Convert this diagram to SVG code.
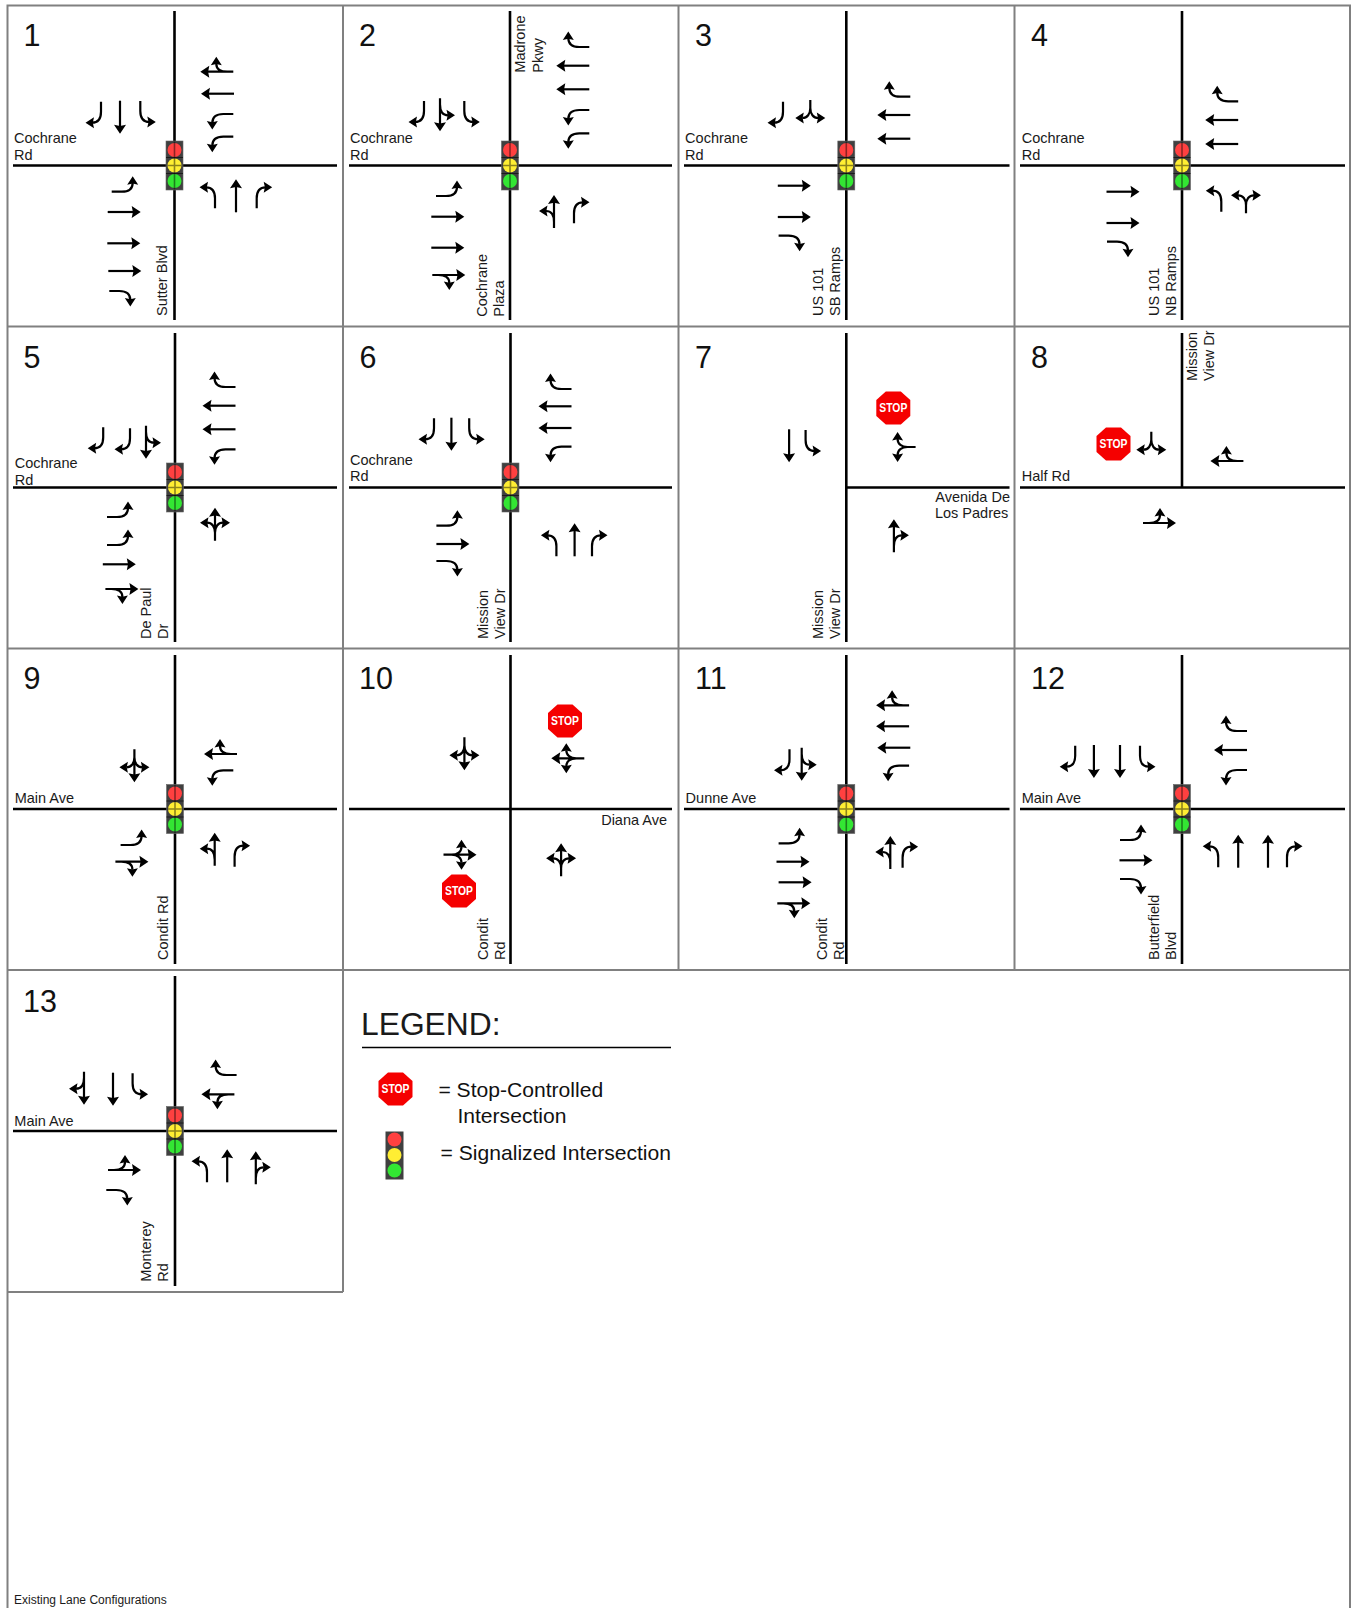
<svg xmlns="http://www.w3.org/2000/svg" width="1354" height="1608" viewBox="0 0 1354 1608">
<style>
text{font-family:"Liberation Sans",Arial,sans-serif;fill:#1a1a1a}
.lb{font-size:14.5px}
.num{font-size:30.5px;fill:#111}
.lg{font-size:21.1px;fill:#111}
.st{font-size:13px;font-weight:bold;fill:#fff;text-anchor:middle}
.grid{stroke:#808080;stroke-width:2;fill:none}
.road{stroke:#000;stroke-width:2.6;fill:none}
.ar{stroke:#000;stroke-width:2.2;fill:none}
.hd{fill:#000;stroke:none}
</style>
<defs>
<polygon id="hU" class="hd" points="0,-8 6,1 0,-0.2 -6,1"/>
<polygon id="hL" class="hd" points="-7.5,0 1,-5.5 -0.2,0 1,5.5"/>
<polygon id="hR" class="hd" points="7.5,0 -1,-5.5 0.2,0 -1,5.5"/>
<g id="T"><path class="ar" d="M0,0V-27"/><use href="#hU" y="-25"/></g>
<g id="L"><path class="ar" d="M0,0V-10C0,-17 -3,-21 -9,-21"/><use href="#hL" x="-8" y="-21"/></g>
<g id="R"><path class="ar" d="M0,0V-10C0,-17 3,-21 9,-21"/><use href="#hR" x="8" y="-21"/></g>
<g id="TL"><path class="ar" d="M0,0V-27M0,-6C0,-13 -3,-17 -8,-17"/><use href="#hU" y="-25"/><use href="#hL" x="-7.5" y="-17"/></g>
<g id="TR"><path class="ar" d="M0,0V-27M0,-6C0,-13 3,-17 8,-17"/><use href="#hU" y="-25"/><use href="#hR" x="7.5" y="-17"/></g>
<g id="LR"><path class="ar" d="M0,0V-8C0,-14 -3,-18 -8,-18M0,-8C0,-14 3,-18 8,-18"/><use href="#hL" x="-7.5" y="-18"/><use href="#hR" x="7.5" y="-18"/></g>
<g id="TLR"><path class="ar" d="M0,0V-27M0,-8C0,-14 -3,-18 -8,-18M0,-8C0,-14 3,-18 8,-18"/><use href="#hU" y="-25"/><use href="#hL" x="-7.5" y="-18"/><use href="#hR" x="7.5" y="-18"/></g>
<g id="sig">
<rect x="-8.5" y="-24.5" width="17" height="49" fill="#404040" stroke="#666" stroke-width="0.6"/>
<circle cy="-15.5" r="7" fill="#ff4040"/><circle r="7" fill="#ffee33"/><circle cy="15.5" r="7" fill="#33e633"/>
<path d="M-8.5,-8H8.5M-8.5,8H8.5" stroke="#111" stroke-width="0.8"/>
<path d="M0,-24V24M-7,0H7" stroke="#000" stroke-width="1.6" stroke-opacity="0.45" fill="none"/>
</g>
<polygon id="oct" fill="#f50000" points="-7.5,-16.5 7.5,-16.5 17,-8 17,8 7.5,16.5 -7.5,16.5 -17,8 -17,-8"/>
</defs>

<g id="grid" class="grid">
<path d="M7.5,1608V5.5H1350V1608"/>
<path d="M7.5,326.5H1350M7.5,648.5H1350M7.5,970H1350M7.5,1292H343"/>
<path d="M343,5.5V1292M678.5,5.5V970M1014.5,5.5V970"/>
</g>

<g id="roads" class="road">
<path d="M174.5,11V320M13,165.5H337"/>
<path d="M510,11V320M349,165.5H672"/>
<path d="M846.3,11V320M684,165.5H1009.5"/>
<path d="M1182,11V320M1020,165.5H1345"/>
<path d="M175,333V642M13,487.5H337"/>
<path d="M510.5,333V642M349,487.5H672"/>
<path d="M846.3,333V642M846.3,487.5H1009.5"/>
<path d="M1182,333V487.5M1020,487.5H1345"/>
<path d="M175,655V964M13,809H337"/>
<path d="M510.5,655V964M349,809H672"/>
<path d="M846.3,655V964M684,809H1009.5"/>
<path d="M1182,655V964M1020,809H1345"/>
<path d="M175,976V1286M13,1131H337"/>
</g>

<g id="node-1">
<text class="num" x="23.5" y="45.5">1</text>
<text class="lb" x="14" y="143">Cochrane</text><text class="lb" x="14" y="160">Rd</text>
<text class="lb" transform="translate(167.4,316) rotate(-90)">Sutter Blvd</text>
<use href="#sig" x="174.5" y="165.5"/>
<use href="#R" transform="translate(101,101.7) rotate(180)"/>
<use href="#T" transform="translate(120,100.7) rotate(180)"/>
<use href="#L" transform="translate(140.3,101) rotate(180)"/>
<use href="#TR" transform="translate(233.3,71.7) rotate(270)"/>
<use href="#T" transform="translate(234,93.7) rotate(270)"/>
<use href="#L" transform="translate(233.3,114) rotate(270)"/>
<use href="#L" transform="translate(233.3,136.7) rotate(270)"/>
<use href="#L" transform="translate(215,208.3)"/>
<use href="#T" transform="translate(236,212.3)"/>
<use href="#R" transform="translate(256.7,208.3)"/>
<use href="#L" transform="translate(111.7,191.7) rotate(90)"/>
<use href="#T" transform="translate(107.7,212) rotate(90)"/>
<use href="#T" transform="translate(107.3,243.3) rotate(90)"/>
<use href="#T" transform="translate(108.3,271) rotate(90)"/>
<use href="#R" transform="translate(109.3,291) rotate(90)"/>
</g>

<g id="node-2">
<text class="num" x="359" y="45.5">2</text>
<text class="lb" x="350" y="143">Cochrane</text><text class="lb" x="350" y="160">Rd</text>
<text class="lb" transform="translate(525,72.7) rotate(-90)">Madrone</text>
<text class="lb" transform="translate(542.7,72.7) rotate(-90)">Pkwy</text>
<text class="lb" transform="translate(486.7,316.7) rotate(-90)">Cochrane</text>
<text class="lb" transform="translate(504,316.7) rotate(-90)">Plaza</text>
<use href="#sig" x="510" y="165.5"/>
<use href="#R" transform="translate(424,101) rotate(180)"/>
<use href="#TL" transform="translate(440,98.3) rotate(180)"/>
<use href="#L" transform="translate(464.3,101) rotate(180)"/>
<use href="#R" transform="translate(589.3,47) rotate(270)"/>
<use href="#T" transform="translate(589.3,65.7) rotate(270)"/>
<use href="#T" transform="translate(589.3,89.3) rotate(270)"/>
<use href="#L" transform="translate(589.3,110) rotate(270)"/>
<use href="#L" transform="translate(589.3,133.3) rotate(270)"/>
<use href="#TL" transform="translate(554,228)"/>
<use href="#R" transform="translate(574,223.3)"/>
<use href="#L" transform="translate(436,196) rotate(90)"/>
<use href="#T" transform="translate(431.3,216.7) rotate(90)"/>
<use href="#T" transform="translate(431.3,247.7) rotate(90)"/>
<use href="#TR" transform="translate(432.3,275) rotate(90)"/>
</g>

<g id="node-3" transform="translate(-0.7,0)">
<text class="num" x="695.7" y="45.5">3</text>
<text class="lb" x="685.8" y="143">Cochrane</text><text class="lb" x="685.8" y="160">Rd</text>
<text class="lb" transform="translate(824,316) rotate(-90)">US 101</text>
<text class="lb" transform="translate(841,316) rotate(-90)">SB Ramps</text>
<use href="#sig" x="847" y="165.5"/>
<use href="#R" transform="translate(783.7,101.7) rotate(180)"/>
<use href="#LR" transform="translate(811,100) rotate(180)"/>
<use href="#R" transform="translate(911,96.7) rotate(270)"/>
<use href="#T" transform="translate(911,115) rotate(270)"/>
<use href="#T" transform="translate(911,138.7) rotate(270)"/>
<use href="#T" transform="translate(778.5,185.7) rotate(90)"/>
<use href="#T" transform="translate(778.5,217) rotate(90)"/>
<use href="#R" transform="translate(779.3,235.7) rotate(90)"/>
</g>

<g id="node-4" transform="translate(-2,0)">
<text class="num" x="1033" y="45.5">4</text>
<text class="lb" x="1023.7" y="143">Cochrane</text><text class="lb" x="1023.7" y="160">Rd</text>
<text class="lb" transform="translate(1161,316) rotate(-90)">US 101</text>
<text class="lb" transform="translate(1178,316) rotate(-90)">NB Ramps</text>
<use href="#sig" x="1184" y="165.5"/>
<use href="#R" transform="translate(1240.2,101.3) rotate(270)"/>
<use href="#T" transform="translate(1240.2,120) rotate(270)"/>
<use href="#T" transform="translate(1240.2,144) rotate(270)"/>
<use href="#L" transform="translate(1223.3,211.7)"/>
<use href="#LR" transform="translate(1248,213.3)"/>
<use href="#T" transform="translate(1108.5,191.7) rotate(90)"/>
<use href="#T" transform="translate(1108.5,223) rotate(90)"/>
<use href="#R" transform="translate(1109,241.7) rotate(90)"/>
</g>

<g id="node-5">
<text class="num" x="23.5" y="367.5">5</text>
<text class="lb" x="14.7" y="468.3">Cochrane</text><text class="lb" x="14.7" y="485">Rd</text>
<text class="lb" transform="translate(150.6,639) rotate(-90)">De Paul</text>
<text class="lb" transform="translate(167.6,639) rotate(-90)">Dr</text>
<use href="#sig" x="175" y="487.5"/>
<use href="#R" transform="translate(103.2,427.3) rotate(180)"/>
<use href="#R" transform="translate(130,428.3) rotate(180)"/>
<use href="#TL" transform="translate(146,425.7) rotate(180)"/>
<use href="#R" transform="translate(235.5,387) rotate(270)"/>
<use href="#T" transform="translate(235.5,405.7) rotate(270)"/>
<use href="#T" transform="translate(235.5,429.3) rotate(270)"/>
<use href="#L" transform="translate(235.5,449.3) rotate(270)"/>
<use href="#L" transform="translate(107,517) rotate(90)"/>
<use href="#L" transform="translate(107,545) rotate(90)"/>
<use href="#T" transform="translate(102.8,564.3) rotate(90)"/>
<use href="#TR" transform="translate(105.4,589) rotate(90)"/>
<use href="#TLR" transform="translate(215,540.7)"/>
</g>

<g id="node-6">
<text class="num" x="359.5" y="367.5">6</text>
<text class="lb" x="350" y="465">Cochrane</text><text class="lb" x="350" y="481">Rd</text>
<text class="lb" transform="translate(487.6,639) rotate(-90)">Mission</text>
<text class="lb" transform="translate(504.6,639) rotate(-90)">View Dr</text>
<use href="#sig" x="510.5" y="487.5"/>
<use href="#R" transform="translate(434,418.3) rotate(180)"/>
<use href="#T" transform="translate(451.4,417.7) rotate(180)"/>
<use href="#L" transform="translate(469.2,418.3) rotate(180)"/>
<use href="#R" transform="translate(571.5,389) rotate(270)"/>
<use href="#T" transform="translate(571.5,406.3) rotate(270)"/>
<use href="#T" transform="translate(571.5,428) rotate(270)"/>
<use href="#L" transform="translate(571.5,446.7) rotate(270)"/>
<use href="#L" transform="translate(436.4,525.7) rotate(90)"/>
<use href="#T" transform="translate(436.4,544) rotate(90)"/>
<use href="#R" transform="translate(436.4,561) rotate(90)"/>
<use href="#L" transform="translate(556.4,556.3)"/>
<use href="#T" transform="translate(574.6,556.3)"/>
<use href="#R" transform="translate(592,556.3)"/>
</g>

<g id="node-7" transform="translate(-0.7,0)">
<text class="num" x="695.7" y="367.5">7</text>
<text class="lb" x="1010.7" y="501.7" text-anchor="end">Avenida De</text>
<text class="lb" x="1009" y="517.7" text-anchor="end">Los Padres</text>
<text class="lb" transform="translate(824,639) rotate(-90)">Mission</text>
<text class="lb" transform="translate(841,639) rotate(-90)">View Dr</text>
<use href="#oct" x="894" y="408"/><text class="st" x="894" y="412" textLength="28" lengthAdjust="spacingAndGlyphs">STOP</text>
<use href="#T" transform="translate(789.8,429.3) rotate(180)"/>
<use href="#L" transform="translate(806.3,430) rotate(180)"/>
<use href="#LR" transform="translate(916.3,447) rotate(270)"/>
<use href="#TR" transform="translate(894.6,552.3)"/>
</g>

<g id="node-8" transform="translate(-2,0)">
<text class="num" x="1033" y="367.5">8</text>
<text class="lb" x="1023.7" y="481">Half Rd</text>
<text class="lb" transform="translate(1199,381) rotate(-90)">Mission</text>
<text class="lb" transform="translate(1216,381) rotate(-90)">View Dr</text>
<use href="#oct" x="1115.5" y="444"/><text class="st" x="1115.5" y="448" textLength="28" lengthAdjust="spacingAndGlyphs">STOP</text>
<use href="#LR" transform="translate(1153.3,431.7) rotate(180)"/>
<use href="#TR" transform="translate(1245.4,461) rotate(270)"/>
<use href="#TL" transform="translate(1145,523) rotate(90)"/>
</g>

<g id="node-9">
<text class="num" x="23.5" y="688.5">9</text>
<text class="lb" x="14.7" y="802.7">Main Ave</text>
<text class="lb" transform="translate(167.6,960) rotate(-90)">Condit Rd</text>
<use href="#sig" x="175" y="809"/>
<use href="#TLR" transform="translate(134.4,749.3) rotate(180)"/>
<use href="#TR" transform="translate(237,754) rotate(270)"/>
<use href="#L" transform="translate(233.3,770.3) rotate(270)"/>
<use href="#L" transform="translate(120.6,845) rotate(90)"/>
<use href="#TR" transform="translate(115.4,861.7) rotate(90)"/>
<use href="#TL" transform="translate(214.7,865.7)"/>
<use href="#R" transform="translate(234.6,866.7)"/>
</g>

<g id="node-10">
<text class="num" x="359" y="688.5">10</text>
<text class="lb" x="667" y="825" text-anchor="end">Diana Ave</text>
<text class="lb" transform="translate(487.6,960) rotate(-90)">Condit</text>
<text class="lb" transform="translate(504.6,960) rotate(-90)">Rd</text>
<use href="#oct" x="565" y="721"/><text class="st" x="565" y="725" textLength="28" lengthAdjust="spacingAndGlyphs">STOP</text>
<use href="#oct" x="459" y="891"/><text class="st" x="459" y="895" textLength="28" lengthAdjust="spacingAndGlyphs">STOP</text>
<use href="#TLR" transform="translate(464.4,737.3) rotate(180)"/>
<use href="#TLR" transform="translate(584.3,758.3) rotate(270)"/>
<use href="#TLR" transform="translate(443.5,854.7) rotate(90)"/>
<use href="#TLR" transform="translate(561.1,876.3)"/>
</g>

<g id="node-11" transform="translate(-0.7,0)">
<text class="num" x="695.7" y="688.5">11</text>
<text class="lb" x="686.3" y="802.7">Dunne Ave</text>
<text class="lb" transform="translate(827.3,960) rotate(-90)">Condit</text>
<text class="lb" transform="translate(844.8,960) rotate(-90)">Rd</text>
<use href="#sig" x="847" y="809"/>
<use href="#R" transform="translate(790.2,749.3) rotate(180)"/>
<use href="#TL" transform="translate(802.4,747.7) rotate(180)"/>
<use href="#TR" transform="translate(909.8,705.3) rotate(270)"/>
<use href="#T" transform="translate(909.8,726.3) rotate(270)"/>
<use href="#T" transform="translate(911,747.7) rotate(270)"/>
<use href="#L" transform="translate(909.8,765.7) rotate(270)"/>
<use href="#L" transform="translate(779.3,843.3) rotate(90)"/>
<use href="#T" transform="translate(777.2,861.7) rotate(90)"/>
<use href="#T" transform="translate(779.3,882.3) rotate(90)"/>
<use href="#TR" transform="translate(778,903.3) rotate(90)"/>
<use href="#TL" transform="translate(891,869)"/>
<use href="#R" transform="translate(903.3,867.7)"/>
</g>

<g id="node-12" transform="translate(-2,0)">
<text class="num" x="1033" y="688.5">12</text>
<text class="lb" x="1023.7" y="802.7">Main Ave</text>
<text class="lb" transform="translate(1161,960) rotate(-90)">Butterfield</text>
<text class="lb" transform="translate(1178,960) rotate(-90)">Blvd</text>
<use href="#sig" x="1184" y="809"/>
<use href="#R" transform="translate(1077.2,745.7) rotate(180)"/>
<use href="#T" transform="translate(1095.9,745) rotate(180)"/>
<use href="#T" transform="translate(1122,745) rotate(180)"/>
<use href="#L" transform="translate(1142,745.7) rotate(180)"/>
<use href="#R" transform="translate(1249,731) rotate(270)"/>
<use href="#T" transform="translate(1249,750) rotate(270)"/>
<use href="#L" transform="translate(1249,770) rotate(270)"/>
<use href="#L" transform="translate(1122,840) rotate(90)"/>
<use href="#T" transform="translate(1121.5,860.3) rotate(90)"/>
<use href="#R" transform="translate(1122,879) rotate(90)"/>
<use href="#L" transform="translate(1220.2,867.3)"/>
<use href="#T" transform="translate(1240.2,867.7)"/>
<use href="#T" transform="translate(1270,867.7)"/>
<use href="#R" transform="translate(1289,867.3)"/>
</g>

<g id="node-13">
<text class="num" x="23" y="1011.5">13</text>
<text class="lb" x="14.3" y="1126">Main Ave</text>
<text class="lb" transform="translate(151.4,1281.7) rotate(-90)">Monterey</text>
<text class="lb" transform="translate(167.6,1281.7) rotate(-90)">Rd</text>
<use href="#sig" x="175" y="1131"/>
<use href="#TR" transform="translate(84,1071.7) rotate(180)"/>
<use href="#T" transform="translate(113,1072.7) rotate(180)"/>
<use href="#L" transform="translate(132.6,1073.3) rotate(180)"/>
<use href="#R" transform="translate(236.6,1075) rotate(270)"/>
<use href="#TL" transform="translate(234.4,1094.3) rotate(270)"/>
<use href="#TL" transform="translate(108,1170) rotate(90)"/>
<use href="#R" transform="translate(106.3,1190) rotate(90)"/>
<use href="#L" transform="translate(207,1182.3)"/>
<use href="#T" transform="translate(227.2,1182.3)"/>
<use href="#TR" transform="translate(255.8,1184.3)"/>
</g>

<g id="legend">
<text x="361" y="1035" font-size="31.8" fill="#111">LEGEND:</text>
<path d="M362,1047.5H671" stroke="#000" stroke-width="1.6"/>
<use href="#oct" x="395.5" y="1089"/><text class="st" x="395.5" y="1093" textLength="28" lengthAdjust="spacingAndGlyphs">STOP</text>
<text class="lg" x="438.4" y="1097.4">= Stop-Controlled</text>
<text class="lg" x="457.4" y="1122.7">Intersection</text>
<g>
<rect x="385.5" y="1131.5" width="18" height="48" fill="#404040"/>
<circle cx="394.5" cy="1139.5" r="7" fill="#ff4040"/>
<circle cx="394.5" cy="1155" r="7" fill="#ffee33"/>
<circle cx="394.5" cy="1170.5" r="7" fill="#33e633"/>
</g>
<text class="lg" x="440.6" y="1159.7">= Signalized Intersection</text>
</g>

<text id="footer" x="14" y="1604" font-size="12">Existing Lane Configurations</text>
</svg>
